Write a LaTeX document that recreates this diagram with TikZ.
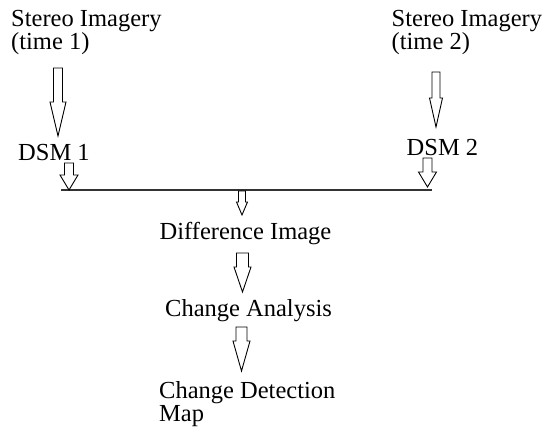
\documentclass[tikz,border=0pt]{standalone}
\usepackage{fontspec}
\setmainfont{Liberation Serif}
\usetikzlibrary{calc}

\begin{document}
\begin{tikzpicture}
  [x=1pt,y=-1pt,
   every node/.style={anchor=base west,inner sep=0pt,align=left,
     font=\fontsize{24.5}{23.5}\selectfont},
   hollow/.style n args={3}{line width=0.9pt,to path={
     let \p1=(\tikztostart), \p2=(\tikztotarget) in
     (\x1-#1*1pt,\y1) -- (\x1-#1*1pt,\y2+#3*1pt) -- (\x1-#2*1pt,\y2+#3*1pt)
     -- (\x1,\y2) -- (\x1+#2*1pt,\y2+#3*1pt) -- (\x1+#1*1pt,\y2+#3*1pt)
     -- (\x1+#1*1pt,\y1) -- cycle}},
   rule/.style={line width=1.1pt,black!80}]
  \useasboundingbox (0,0) rectangle (548,432);
  % two-line texts are placed by the baseline of their last line
  \node (s1) at (11,49.5) {Stereo Imagery\\(time 1)};
  \node (s2) at (391.5,49.5) {Stereo Imagery\\(time 2)};
  \node (d1) at (18,160.5) {DSM 1};
  \node (d2) at (406.5,155) {DSM 2};
  \node (di) at (159.5,239) {Difference Image};
  \node (ca) at (165,316.5) {Change Analysis};
  \node (cd) at (159,421.5) {Change Detection\\Map};
  % arrow ends and the joining line
  \foreach \name/\x/\y in {a1/58/68,a1e/58/136,a2/436/72,a2e/436/127,
      b1/69/163,b1e/69/190,b2/427.5/158,b2e/427.5/187,
      c/242/191,ce/242/215,e/242.5/253,ee/242.5/292,f/241.5/327,fe/241.5/371,
      l1/61/190,l2/432/190}
    \coordinate (\name) at (\x,\y);
  \draw[rule] (l1) -- (l2);
  \draw[hollow={4.5}{8}{34}] (a1) to (a1e);
  \draw[hollow={4}{6.5}{29}] (a2) to (a2e);
  \draw[hollow={4.5}{9}{15}] (b1) to (b1e);
  \draw[hollow={4.5}{9}{15}] (b2) to (b2e);
  \draw[hollow={3.5}{5.5}{13}] (c) to (ce);
  \draw[hollow={6}{8.5}{25}] (e) to (ee);
  \draw[hollow={5.5}{8.5}{30}] (f) to (fe);
\end{tikzpicture}
\end{document}
